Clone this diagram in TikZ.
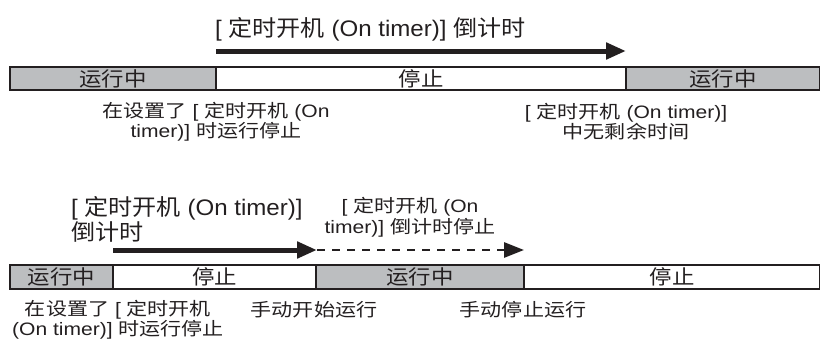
\documentclass[tikz,border=0pt]{standalone}
\usepackage{graphicx}
\usepackage{fontspec}
\setmainfont{Liberation Sans}
\newfontfamily\cjk{Noto Sans CJK SC}
\newcommand{\zh}[1]{{\cjk #1}}
\newcommand{\sx}[2][1.17]{\scalebox{#1}[1]{#2}}
\usetikzlibrary{arrows.meta}
\definecolor{ink}{HTML}{231F20}
\definecolor{rungray}{HTML}{BCBEC0}
\tikzset{
  seg/.style={draw=ink, line width=2.4pt, minimum height=23.5pt, inner sep=0pt, font=\fontsize{20}{20}\selectfont, text=ink},
  runseg/.style={seg, fill=rungray},
  stopseg/.style={seg, fill=white},
  lbl/.style={align=center, inner sep=0pt, text=ink, font=\fontsize{18}{17.5}\selectfont},
  biglbl/.style={inner sep=0pt, text=ink, font=\fontsize{22.5}{25}\selectfont},
  bigarrow/.style={draw=ink, line width=5pt, -{Triangle[length=20pt, width=16pt]}},
  dasharrow/.style={draw=ink, line width=2.8pt, dash pattern=on 8pt off 7pt, -{Triangle[length=20pt, width=15pt]}}
}
\begin{document}
\begin{tikzpicture}[x=1pt,y=-1pt]
\useasboundingbox (0,0) rectangle (820,340);
% ---------- top timeline ----------
\node[biglbl, anchor=west] (ttitle) at (215,29) {\sx[1.07]{[ \zh{定时开机} (On timer)] \zh{倒计时}}};
\node[runseg, minimum width=206pt] (t1) at (113,78.5) {\sx[1.12]{\zh{运行中}}};
\node[stopseg, minimum width=410pt] (t2) at (421,78.5) {\sx[1.12]{\zh{停止}}};
\node[runseg, minimum width=194pt] (t3) at (723,78.5) {\sx[1.12]{\zh{运行中}}};
\coordinate (ta) at (216,51);
\coordinate (tb) at (626,51);
\draw[bigarrow] (ta) -- (tb);
\node[lbl] (tl1) at (216,122) {\sx{\zh{在设置了} [ \zh{定时开机} (On}\\\sx{timer)] \zh{时运行停止}}};
\node[lbl] (tl2) at (626,122) {\sx{[ \zh{定时开机} (On timer)]}\\\sx{\zh{中无剩余时间}}};
% ---------- bottom timeline ----------
\node[biglbl, align=left, anchor=west] (btitle) at (71,219.5) {\sx[1.07]{[ \zh{定时开机} (On timer)]}\\\sx[1.07]{\zh{倒计时}}};
\node[lbl, font=\fontsize{18}{21}\selectfont] (dtitle) at (410,217) {\sx{[ \zh{定时开机} (On}\\\sx{timer)] \zh{倒计时停止}}};
\node[runseg, minimum width=103pt] (b1) at (61.5,277) {\sx[1.12]{\zh{运行中}}};
\node[stopseg, minimum width=203pt] (b2) at (214.5,277) {\sx[1.12]{\zh{停止}}};
\node[runseg, minimum width=208pt] (b3) at (420,277) {\sx[1.12]{\zh{运行中}}};
\node[stopseg, minimum width=296pt] (b4) at (672,277) {\sx[1.12]{\zh{停止}}};
\coordinate (ba) at (113,250);
\coordinate (bb) at (317,250);
\coordinate (bc) at (524,250);
\draw[bigarrow] (ba) -- (bb);
\draw[dasharrow] (bb) -- (bc);
\node[lbl, font=\fontsize{18}{20}\selectfont] (bl1) at (118,320) {\sx{\zh{在设置了} [ \zh{定时开机}}\\\sx{(On timer)] \zh{时运行停止}}};
\node[lbl] (bl2) at (314,310) {\sx{\zh{手动开始运行}}};
\node[lbl] (bl3) at (523,310) {\sx{\zh{手动停止运行}}};
\end{tikzpicture}
\end{document}
